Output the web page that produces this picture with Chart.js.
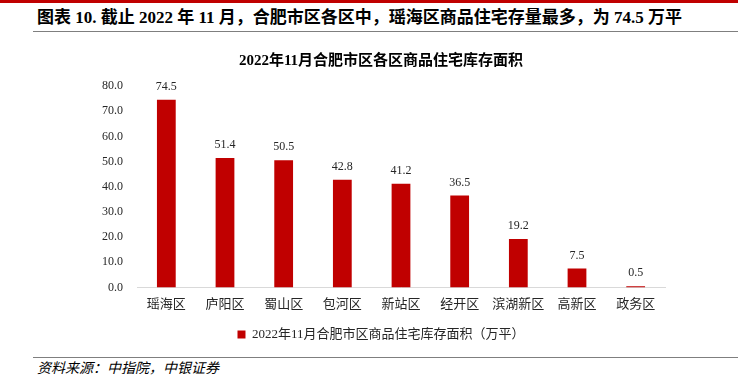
<!DOCTYPE html>
<html lang="zh">
<head>
<meta charset="UTF-8">
<title>合肥市区各区商品住宅库存面积</title>
<script src="https://cdn.jsdelivr.net/npm/chart.js"></script>
<style>
    body {
        margin: 0;
        width: 738px;
        height: 382px;
        background: #fff;
        position: relative;
        overflow: hidden;
        font-family: "Liberation Serif", "Noto Sans CJK SC", serif;
    }
    .topbar {
        position: absolute; left: 0; top: 0; width: 738px; height: 3px;
        background: #c00000;
    }
    .header {
        position: absolute; left: 37px; top: 8px;
        font-size: 17px; line-height: 20px; font-weight: bold; color: #000;
        white-space: nowrap;
    }
    .rule {
        position: absolute; left: 33px; right: 0; height: 1px; background: #7f7f7f;
    }
    .source {
        position: absolute; left: 37px; top: 361px;
        font-size: 14px; line-height: 16px; font-style: italic; color: #000;
    }
    #wrap {
        position: absolute; left: 0; top: 40px; width: 738px; height: 311px;
    }
</style>
</head>
<body>
<div class="topbar"></div>
<div class="header">图表 10. 截止 2022 年 11 月，合肥市区各区中，瑶海区商品住宅存量最多，为 74.5 万平</div>
<div class="rule" style="top:31px"></div>
<div id="wrap"><canvas id="chart"></canvas></div>
<div class="rule" style="top:357px"></div>
<div class="source">资料来源：中指院，中银证券</div>
<script>
    // 各区名称与库存面积（万平）
    const districts = ['瑶海区', '庐阳区', '蜀山区', '包河区', '新站区', '经开区', '滨湖新区', '高新区', '政务区'];
    const stock = [74.5, 51.4, 50.5, 42.8, 41.2, 36.5, 19.2, 7.5, 0.5];
    const seriesName = '2022年11月合肥市区商品住宅库存面积（万平）';
    const chartTitle = '2022年11月合肥市区各区商品住宅库存面积';

    const fontFamily = '"Liberation Serif", "Noto Sans CJK SC", serif';

    // write the value above each bar
    const valueLabels = {
        id: 'valueLabels',
        afterDatasetsDraw(chart) {
            const ctx = chart.ctx;
            const meta = chart.getDatasetMeta(0);
            ctx.save();
            ctx.font = '12px ' + fontFamily;
            ctx.fillStyle = '#262626';
            ctx.textAlign = 'center';
            ctx.textBaseline = 'bottom';
            meta.data.forEach((bar, i) => {
                ctx.fillText(stock[i].toFixed(1), bar.x, bar.y - 7);
            });
            ctx.restore();
        }
    };

    new Chart(document.getElementById('chart'), {
        type: 'bar',
        data: {
            labels: districts,
            datasets: [{
                label: seriesName,
                data: stock,
                backgroundColor: '#c00000',
                barPercentage: 0.32,
                categoryPercentage: 1
            }]
        },
        options: {
            responsive: true,
            maintainAspectRatio: false,
            animation: false,
            layout: { padding: { left: 97, right: 73, top: 0, bottom: 0 } },
            plugins: {
                title: {
                    display: true,
                    text: chartTitle,
                    color: '#000',
                    font: { family: fontFamily, size: 15, weight: 'bold' },
                    padding: { top: 12, bottom: 16 }
                },
                legend: {
                    position: 'bottom',
                    labels: {
                        color: '#262626',
                        font: { family: fontFamily, size: 13 },
                        boxWidth: 8,
                        boxHeight: 8,
                        padding: 7
                    }
                },
                tooltip: { enabled: false }
            },
            scales: {
                x: {
                    grid: { display: false, drawTicks: false },
                    border: { color: '#d9d9d9', width: 1 },
                    ticks: {
                        color: '#262626',
                        font: { family: fontFamily, size: 13 },
                        padding: 9,
                        maxRotation: 0
                    }
                },
                y: {
                    min: 0,
                    max: 80,
                    grid: { display: false, drawTicks: false },
                    border: { display: false },
                    afterFit(scale) { scale.width = 40; },
                    ticks: {
                        stepSize: 10,
                        color: '#262626',
                        padding: 14,
                        font: { family: fontFamily, size: 12 },
                        callback: v => v.toFixed(1)
                    }
                }
            }
        },
        plugins: [valueLabels]
    });
</script>
</body>
</html>
